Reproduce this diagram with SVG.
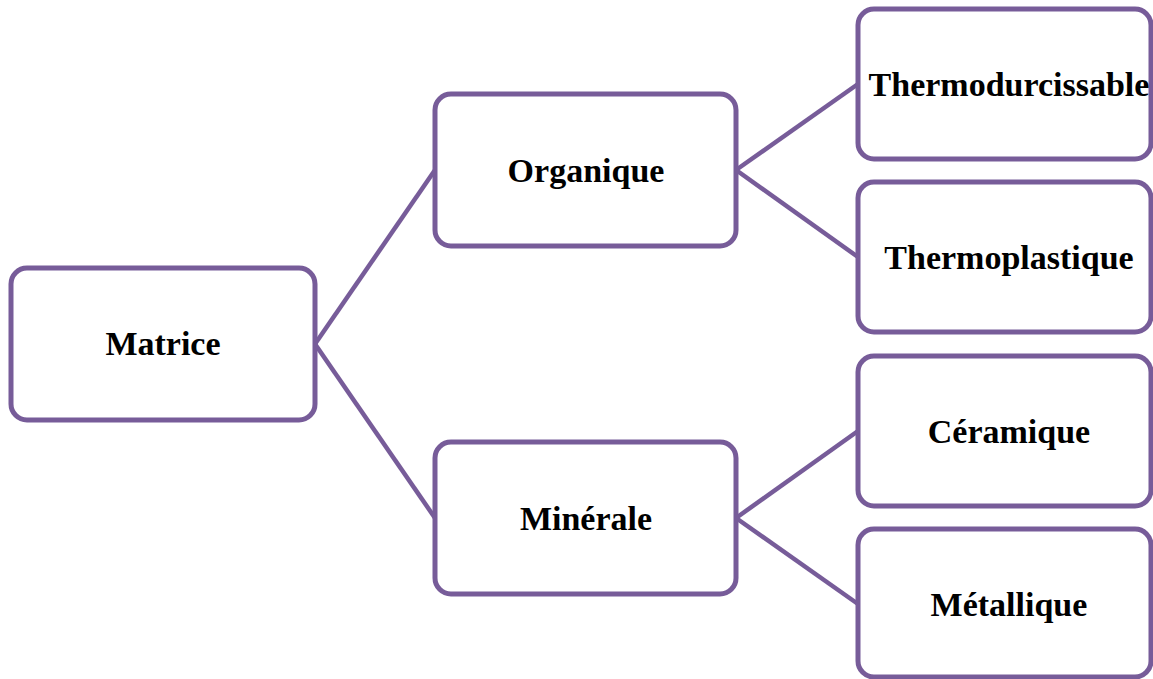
<svg xmlns="http://www.w3.org/2000/svg" width="1153" height="679" viewBox="0 0 1153 679">
<style>
.box{fill:#ffffff;stroke:#775C99;stroke-width:5}
.conn{fill:none;stroke:#775C99;stroke-width:4.5}
.lbl{font-family:"Liberation Serif","Times New Roman",serif;font-weight:bold;font-size:34px;fill:#000;text-anchor:middle}
</style>
<rect width="1153" height="679" fill="#ffffff"/>
<g id="connectors">
<line class="conn" x1="315" y1="344" x2="435" y2="170"/>
<line class="conn" x1="315" y1="344" x2="435" y2="518"/>
<line class="conn" x1="736" y1="170" x2="858" y2="84"/>
<line class="conn" x1="736" y1="170" x2="858" y2="257"/>
<line class="conn" x1="736" y1="518" x2="858" y2="431"/>
<line class="conn" x1="736" y1="518" x2="858" y2="604"/>
</g>
<g id="matrice">
<rect class="box" x="11" y="268" width="304" height="152" rx="16"/>
<text class="lbl" x="163" y="355">Matrice</text>
</g>
<g id="organique">
<rect class="box" x="435" y="94" width="301" height="152" rx="16"/>
<text class="lbl" x="586" y="182">Organique</text>
</g>
<g id="minerale">
<rect class="box" x="435" y="442" width="301" height="152" rx="16"/>
<text class="lbl" x="586" y="530">Minérale</text>
</g>
<g id="thermodurcissable">
<rect class="box" x="858" y="9" width="293" height="150" rx="16"/>
<text class="lbl" x="1009" y="96">Thermodurcissable</text>
</g>
<g id="thermoplastique">
<rect class="box" x="858" y="182" width="293" height="150" rx="16"/>
<text class="lbl" x="1009" y="269">Thermoplastique</text>
</g>
<g id="ceramique">
<rect class="box" x="858" y="356" width="293" height="150" rx="16"/>
<text class="lbl" x="1009" y="443">Céramique</text>
</g>
<g id="metallique">
<rect class="box" x="858" y="529" width="293" height="148" rx="16"/>
<text class="lbl" x="1009" y="616">Métallique</text>
</g>
</svg>
